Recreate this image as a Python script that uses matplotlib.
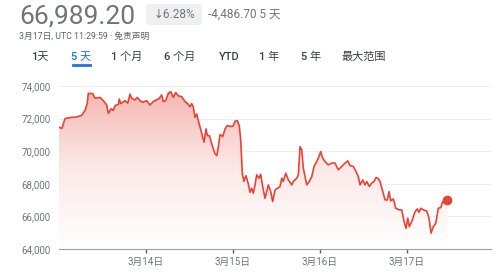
import numpy as np
import matplotlib.pyplot as plt
from matplotlib.colors import LinearSegmentedColormap
from matplotlib.patches import FancyBboxPatch, Polygon

plt.rcParams['font.family'] = ['Roboto', 'Noto Sans CJK SC', 'DejaVu Sans']

# days since 3月13日 00:00
days = [0.000, 0.034, 0.069, 0.107, 0.203, 0.261, 0.299, 0.325, 0.337, 0.387,
        0.414, 0.471, 0.509, 0.548, 0.567, 0.598, 0.624, 0.644, 0.682, 0.693,
        0.709, 0.759, 0.790, 0.816, 0.836, 0.874, 0.900, 0.931, 0.962, 1.008,
        1.046, 1.084, 1.123, 1.153, 1.180, 1.199, 1.226, 1.256, 1.284, 1.314,
        1.341, 1.371, 1.410, 1.448, 1.479, 1.506, 1.525, 1.544, 1.563, 1.583,
        1.601, 1.632, 1.667, 1.690, 1.705, 1.728, 1.755, 1.793, 1.813, 1.831,
        1.851, 1.882, 1.908, 1.934, 1.985, 2.003, 2.023, 2.049, 2.072, 2.089,
        2.107, 2.126, 2.149, 2.176, 2.195, 2.215, 2.233, 2.253, 2.272, 2.299,
        2.318, 2.341, 2.368, 2.406, 2.433, 2.456, 2.483, 2.509, 2.540, 2.560,
        2.578, 2.606, 2.636, 2.675, 2.693, 2.732, 2.751, 2.770, 2.790, 2.808,
        2.847, 2.877, 2.905, 2.931, 2.962, 2.980, 3.008, 3.031, 3.057, 3.095,
        3.134, 3.172, 3.210, 3.249, 3.287, 3.318, 3.345, 3.383, 3.414, 3.440,
        3.460, 3.491, 3.517, 3.537, 3.567, 3.594, 3.621, 3.644, 3.670, 3.690,
        3.716, 3.747, 3.774, 3.793, 3.813, 3.843, 3.870, 3.911, 3.939, 3.966,
        3.989, 4.008, 4.026, 4.054, 4.092, 4.118, 4.138, 4.157, 4.187, 4.226,
        4.253, 4.276, 4.302, 4.330, 4.360, 4.387, 4.410, 4.437, 4.463]

prices = [71470, 71400, 72000, 72050, 72100, 72200, 72500, 72940, 73550, 73530,
          73250, 73300, 73100, 72850, 72320, 72600, 72500, 72800, 72870, 73200,
          72920, 73100, 72950, 73500, 73250, 73150, 73300, 73100, 73000, 73100,
          72830, 73050, 73150, 73250, 73450, 73050, 73100, 73550, 73650, 73300,
          73600, 73400, 73350, 73050, 72920, 72720, 72920, 72700, 72080, 72290,
          71880, 71270, 70550, 71370, 70960, 70960, 70450, 69840, 69730, 70240,
          71020, 70900, 71370, 71570, 71510, 71570, 71840, 71880, 71570, 70650,
          68600, 68150, 68500, 67990, 67480, 67720, 67420, 67930, 68550, 68340,
          68590, 67830, 67110, 67930, 67520, 66910, 67620, 67720, 67830, 68340,
          68140, 68650, 68240, 67930, 68140, 68340, 68550, 70280, 70080, 68960,
          67930, 68140, 68440, 69060, 69370, 69570, 69980, 69570, 69370, 69160,
          69270, 69270, 68860, 69060, 69270, 69410, 69120, 69060, 68750, 68440,
          67930, 68240, 67930, 68140, 67830, 68040, 68140, 68390, 68310, 68140,
          67620, 67010, 67010, 67520, 66950, 67070, 66500, 66400, 66400, 65680,
          65270, 65890, 65370, 65680, 66290, 66460, 66250, 66500, 66400, 66330,
          65890, 64970, 65370, 65580, 66500, 66540, 66910, 66810, 66989.2]

yticks = [64000, 66000, 68000, 70000, 72000, 74000]
xticks = [1, 2, 3, 4]
xlabels = ['3月14日', '3月15日', '3月16日', '3月17日']
tabs = ['1天', '5 天', '1 个月', '6 个月', 'YTD', '1 年', '5 年', '最大范围']
tab_x = [40, 81, 127, 180, 229, 269, 311, 364]

red = '#ea4335'
grey = '#70757a'

fig = plt.figure(figsize=(5, 2.74), dpi=100)
W, H = 500, 274

# header
fig.text(19 / W, 1 - 16.5 / H, '66,989.20', fontsize=19, color='#70757a', va='center')
box = FancyBboxPatch((146 / W, 1 - 25 / H), 56 / W, 21 / H,
                     boxstyle='round,pad=0,rounding_size=0.008',
                     transform=fig.transFigure, fc='#eef0f1', ec='none', zorder=0)
fig.patches.append(box)
fig.text(174 / W, 1 - 14.5 / H, '↓6.28%', fontsize=8.5, color=grey,
         ha='center', va='center', family=['Roboto', 'DejaVu Sans'])
fig.text(208 / W, 1 - 14.5 / H, '-4,486.70 5 天', fontsize=8.5, color=grey, va='center')
fig.text(19 / W, 1 - 36 / H, '3月17日, UTC 11:29:59 · 免责声明', fontsize=6.3,
         color='#5f6368', va='center')
for t, x in zip(tabs, tab_x):
    c = '#1a73e8' if t == '5 天' else '#3c4043'
    fig.text(x / W, 1 - 57 / H, t, fontsize=8, color=c, ha='center', va='center',
             fontweight='medium')
fig.add_artist(plt.Line2D([73 / W, 90 / W], [1 - 64.5 / H, 1 - 64.5 / H],
                          color='#1a73e8', lw=2, transform=fig.transFigure))

ax = fig.add_axes([59 / W, 25 / H, 432 / W, 163 / H])
ax.set_xlim(0, 4.965)
ax.set_ylim(64000, 74000)

# gradient fill under the line
cmap = LinearSegmentedColormap.from_list('fade', ['#ffffff', '#fce9e7', '#f4b4ae'])
grad = np.linspace(0, 1, 256).reshape(-1, 1)
img = ax.imshow(grad, cmap=cmap, aspect='auto', origin='lower',
                extent=[0, days[-1], 64000, 74000], zorder=1)
poly = Polygon(list(zip(days, prices)) + [(days[-1], 64000), (0, 64000)],
               closed=True, fc='none', ec='none')
ax.add_patch(poly)
img.set_clip_path(poly)

ax.plot(days, prices, color=red, lw=1.2, zorder=3)
ax.plot(days[-1], prices[-1], 'o', color=red, ms=6, zorder=4, clip_on=False)

ax.set_yticks(yticks)
ax.set_yticklabels([f'{v:,}' for v in yticks])
ax.set_xticks(xticks)
ax.set_xticklabels(xlabels)
for v in yticks[1:]:
    ax.axhline(v, color='#eeeeee', lw=0.8, zorder=0)
for s in ['top', 'right', 'left']:
    ax.spines[s].set_visible(False)
ax.spines['bottom'].set_color('#9aa0a6')
ax.spines['bottom'].set_linewidth(0.8)
ax.tick_params(axis='y', length=0, labelsize=7, labelcolor=grey, pad=6)
ax.tick_params(axis='x', length=3, width=1, color='#5f6368', labelsize=7,
               labelcolor=grey, pad=3)

fig.savefig('out.png', dpi=100)
